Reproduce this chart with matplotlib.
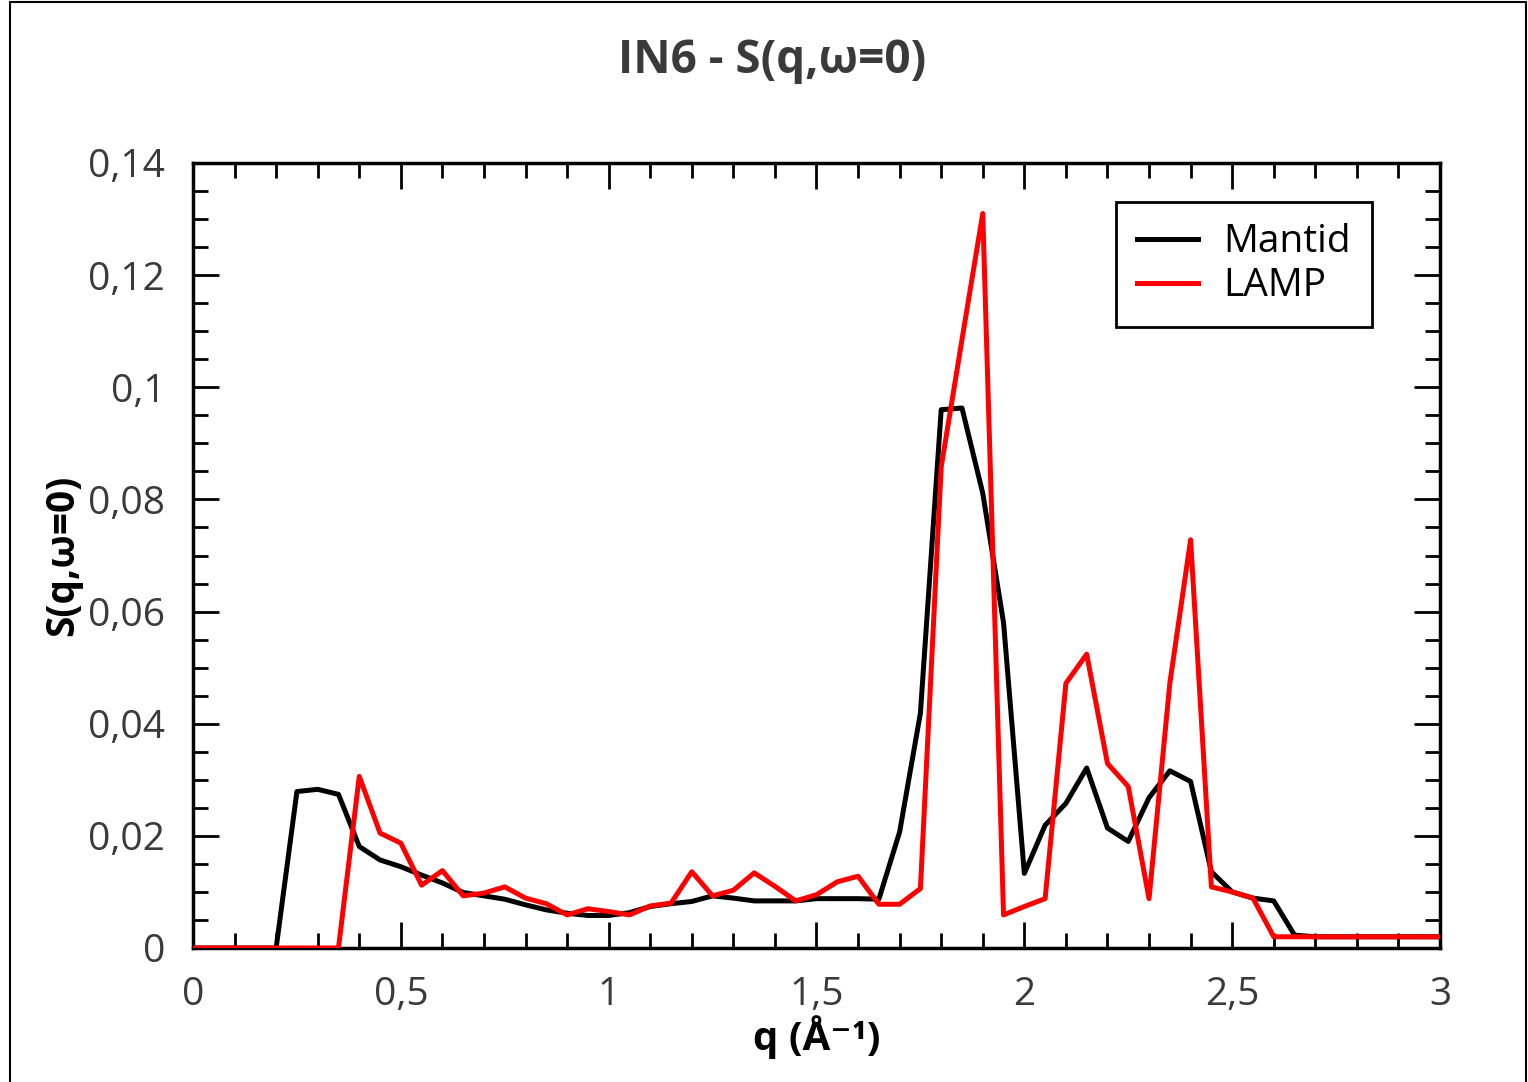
import matplotlib
matplotlib.use('Agg')
import matplotlib.pyplot as plt
from matplotlib.patches import Rectangle
from matplotlib.ticker import MultipleLocator, FuncFormatter

plt.rcParams['font.family'] = ['Open Sans', 'DejaVu Sans']

# q grid, 0 -> 3 in steps of 0.05
q = [i * 0.05 for i in range(61)]

mantid = [0, 0, 0, 0, 0,
          0.0279, 0.0283, 0.0274, 0.0181, 0.0157, 0.0145, 0.0130, 0.0116, 0.0099,
          0.0093, 0.0087, 0.0077, 0.0068, 0.0062, 0.0058, 0.0058, 0.0063, 0.0074,
          0.0079, 0.0083, 0.0093, 0.0089, 0.0084, 0.0084, 0.0084, 0.0088, 0.0088,
          0.0088, 0.0087, 0.0207, 0.0419, 0.0960, 0.0963, 0.0811, 0.0580, 0.0133,
          0.0219, 0.0258, 0.0321, 0.0214, 0.0190, 0.0268, 0.0316, 0.0297, 0.0136,
          0.0100, 0.0089, 0.0084, 0.0023,
          0.002, 0.002, 0.002, 0.002, 0.002, 0.002, 0.002]

lamp = [0, 0, 0, 0, 0, 0, 0, 0,
        0.0306, 0.0205, 0.0187, 0.0112, 0.0138, 0.0093, 0.0098, 0.0109, 0.0089,
        0.0079, 0.0059, 0.0070, 0.0065, 0.0059, 0.0075, 0.0080, 0.0136, 0.0093,
        0.0103, 0.0134, 0.0110, 0.0084, 0.0095, 0.0118, 0.0128, 0.0078, 0.0078,
        0.0106, 0.0858, 0.1085, 0.1310, 0.0059, 0.0074, 0.0088, 0.0472, 0.0524,
        0.0329, 0.0288, 0.0088, 0.0472, 0.0728, 0.0109, 0.0100, 0.0089, 0.0020,
        0.002, 0.002, 0.002, 0.002, 0.002, 0.002, 0.002, 0.002]

W, H = 1528, 1082
fig = plt.figure(figsize=(W / 100, H / 100), dpi=100)
ax = fig.add_axes([193 / W, (H - 948) / H, (1440 - 193) / W, (948 - 163) / H])

ax.plot(q, mantid, color='black', lw=3.6, label='Mantid', zorder=3)
ax.plot(q, lamp, color='#ff0000', lw=3.6, label='LAMP', zorder=4)

ax.set_xlim(0, 3)
ax.set_ylim(0, 0.14)

comma = FuncFormatter(lambda v, p: ('%g' % round(v, 4)).replace('.', ','))
ax.xaxis.set_major_locator(MultipleLocator(0.5))
ax.xaxis.set_minor_locator(MultipleLocator(0.1))
ax.yaxis.set_major_locator(MultipleLocator(0.02))
ax.yaxis.set_minor_locator(MultipleLocator(0.005))
ax.xaxis.set_major_formatter(comma)
ax.yaxis.set_major_formatter(comma)

ax.tick_params(which='both', direction='in', top=True, right=True, width=2,
               labelsize=28, labelcolor='#3a3a3a')
ax.tick_params(which='major', length=19)
ax.tick_params(which='minor', length=11)
ax.tick_params(axis='y', which='major', pad=20)
ax.tick_params(axis='x', which='major', pad=20)
for s in ax.spines.values():
    s.set_linewidth(2.5)

fig.text(772 / W, 1 - 60 / H, 'IN6 - S(q,ω=0)', fontsize=33, fontweight='bold',
         color='#3a3a3a', ha='center', va='center')
ax.set_xlabel('q (Å⁻¹)', fontsize=29, fontweight='bold', labelpad=1)
ax.set_ylabel('S(q,ω=0)', fontsize=28, fontweight='bold', labelpad=4)

leg = ax.legend(loc='upper right', bbox_to_anchor=((1372 - 193) / 1247, 1 - 39 / 785),
                fontsize=28, frameon=True, fancybox=False, handlelength=1.55,
                handletextpad=0.65, borderpad=0.55, labelspacing=0.15, borderaxespad=0)
leg.get_frame().set_edgecolor('black')
leg.get_frame().set_linewidth(2)
leg.get_frame().set_alpha(1)

# outer frame of the screenshot
fig.add_artist(Rectangle((10 / W, -0.02), (1526 - 10) / W, (H - 2) / H + 0.02,
                         transform=fig.transFigure, fill=False, edgecolor='black', lw=1.5))

fig.savefig('out.png', dpi=100)
